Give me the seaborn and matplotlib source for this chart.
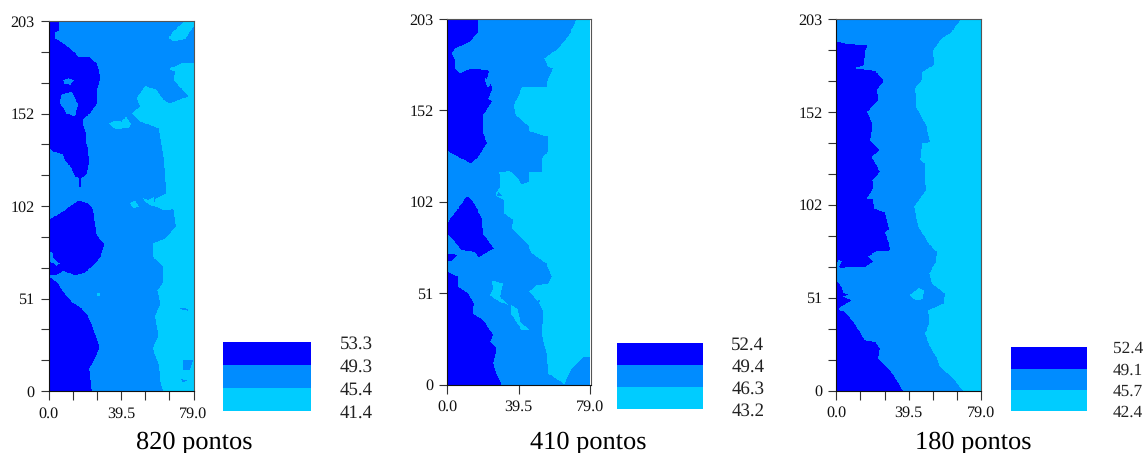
import numpy as np
import matplotlib
matplotlib.use('Agg')
import matplotlib.pyplot as plt
from matplotlib.colors import ListedColormap
from matplotlib.path import Path
import seaborn as sns

# Contour outlines, in map units (0-79 / 0-203)
# 820 pontos
a_dark1_x = [0,5.8,5.8,3.5,3.5,7.1,11.6,16.2,21.7,26.2,28.4,26.2,26.6,22.6,18.9,18.9,20.4,20.4,21.7,22.2,20.4,18,14.4,12.6,8.9,7.6,2.5,0]
a_dark1_y = [203,203,198.2,196.4,193.6,191.3,188.1,183.6,183.6,179.9,171.7,165.2,157.9,152.4,149.1,146,141.4,136.8,131.4,124.9,118.5,116.7,117.6,122.2,126.8,130.1,131.4,133.2]
a_dark2_x = [0,8,12.6,16.2,21.7,24.4,25.3,26.2,30.2,28.4,24.4,19.8,14.4,8,4.4,0]
a_dark2_y = [93.8,98.4,102,104.4,102.9,99.3,91.9,85.6,80.6,73.6,69,64.9,63.4,66,63.6,63.6]
a_dark3_x = [0,4.4,8,12.6,18,21.7,25.3,27.7,25.3,22.2,23.5,0]
a_dark3_y = [62.7,59.9,54.4,48.9,45.3,40.7,31.5,24.2,17.8,12.3,0,0]
a_dark4_x = [16.5,17.7,17.7,16.5]
a_dark4_y = [117,117,112,112]
a_light1_x = [79,72.6,65.3,69,68.1,71.7,76.3,66.2,62.6,59,52.6,48,49.9,45.3,49.9,53.5,59.9,61.2,62.6,63.5,63.9,58.1,57.5,62.6,68.1,69.3,63.5,57.1,56.8,62.6,62.2,59.3,60.8,58.1,59.9,56.8,59.9,61.2,62.6,79]
a_light1_y = [179.9,179.9,176.6,175.3,170.7,166.7,161.6,157.9,159.7,165.2,167.4,160.7,156.1,152.4,147.8,146.6,144.2,137.8,128.6,117.6,108.5,105.2,101.5,99.3,99.7,90.1,83.7,81,73.6,68.2,59,55.3,48,40.7,30.6,23.3,15,4,0,0]
a_light2_x = [65.3,68.1,73.5,79,79,74.4,68.1]
a_light2_y = [193.7,197.4,202.3,203,200,193,192]
a_light3_x = [51.7,54.4,57.1,58.6,55.3,52.6]
a_light3_y = [105.7,104.8,106.3,101.1,102,103.8]
a_light4_x = [44.4,47.1,49.5,46.2]
a_light4_y = [103,104.4,101.1,100.2]
a_light5_x = [33.1,36.2,39.9,42.2,44.8,44.4,40.8,37.1,34.4]
a_light5_y = [146.9,148.4,147.8,150.6,146.9,144.7,144.2,143.6,145.1]
a_light6_x = [26.2,28,28,26.2]
a_light6_y = [53.5,53.5,52,52]
a_mid1_x = [8,11,13.8,12,8.5]
a_mid1_y = [170.5,171.5,170.5,168,168.5]
a_mid2_x = [7.1,12.6,16.2,14.4,9.8,6.2]
a_mid2_y = [162.5,164.3,157,150.6,152.4,157.9]
a_mid3_x = [0,2.2,2.5,6.2,4.4,0.7,0]
a_mid3_y = [77.1,75.7,73,69.9,68.8,71.2,72.7]
a_mid4_x = [73.2,78.6,77.1,73.5]
a_mid4_y = [17.2,16.8,11.7,11.7]
a_mid5_x = [71.7,75.3,73.5]
a_mid5_y = [6.8,5.9,4.6]
a_mid6_x = [71.3,76.3,76.3,71.7]
a_mid6_y = [45.8,45.2,44,44.8]

# 410 pontos
b_dark1_x = [0,17.2,17.2,12.6,4.2,2.4,4.2,4.2,7,13.4,23.2,22.2,25.1,22.7,24.6,19.9,19.5,21.8,17.2,12.9,9.8,4.2,0]
b_dark1_y = [203,203,195.9,190.4,186.7,183.9,180.2,175.6,172.8,175.6,174.3,170,164.5,158.9,157,149.6,141.3,133.9,126.5,122.8,124.6,127.4,129.8]
b_dark2_x = [0,6.1,10.7,12.9,15.9,19,19.6,25.8,17.2,15.3,7.9,3.3,0]
b_dark2_y = [89.8,97.8,104.3,103.3,98.7,92.2,83.9,75.6,70.6,73.7,74.6,80.2,83.9]
b_dark3_x = [0,5.5,2.4,0]
b_dark3_y = [72.8,71.9,68.7,68.7]
b_dark4_x = [0,6.1,6.1,11.6,14.8,14,19.9,25.5,23.6,27.3,25.5,26.4,30.1,0]
b_dark4_y = [62.6,59.8,54.3,50.6,45,39.4,35.7,27.4,23.7,20,11.7,8,0,0]
b_light1_x = [71.6,67,61.5,53.7,55.9,58.7,55.9,55,41.2,39.3,36.6,38,44.9,45.8,55.9,55.9,52.2,52.2,44.9,45.4,41.2,38.4,34.7,28.8,29.2,26.4,31.4,31.4,36.6,35.6,44.9,46.7,55,57.8,55.9,49.5,45.4,50.4,53.2,52.2,55.4,55.9,64.2,64.8,68.9,75.3,79.6,79.6]
b_light1_y = [203,193.2,186.7,181.1,176.5,175.6,170,165,165,159.8,155.2,149.6,143.5,140.4,137.6,129.3,125.6,118.2,118.2,112.6,111.1,115.4,118.5,118.2,109.8,105.2,102.4,95,91.3,86.7,77.4,72.8,67.2,59.8,56.1,55.2,51.5,45.9,40.4,28.3,15.4,6.1,0.6,0,8.9,15,15,203]
b_light2_x = [24.6,27.3,31,30.1,29.2,33.8,29.2,23.3,25.5]
b_light2_y = [58,57,56.1,52.4,48.7,44,45.9,49.6,53.3]
b_light3_x = [35.6,38.8,40.6,45.4,41.2,37.5,35.3]
b_light3_y = [44,42.2,34.8,30.2,30.2,35.7,39.4]
b_mid1_x = [20.9,23.6,23.3,21.4]
b_mid1_y = [170,169,164.9,166.3]
b_mid2_x = [46.2,51.3,50.8,47.9]
b_mid2_y = [45.9,46.8,43.9,43.2]
b_mid3_x = [28.2,30.5,27.5]
b_mid3_y = [107,104.5,104.5]

# 180 pontos
c_dark1_x = [0,6.5,16.9,15.6,15.1,9.6,21.1,26,22,22.9,16.9,19.8,18.4,23.8,19.3,23.8,19.8,20.2,16.2,20.2,20.5,26.6,28.7,26.6,29.7,21.1,17.5,20.2,15.6,7.5,2.9,1.1,3.5,1.1,0]
c_dark1_y = [190.6,189.3,188.8,185.1,177.8,176,174.7,169.1,164.2,158.7,152.3,145,136.8,131.4,127.7,119.5,115,110.4,104.4,104.9,99.5,97.3,88,86.7,76.7,75.8,73.1,70.3,67.6,67.6,66.7,67.6,70.9,71.3,69]
c_dark2_x = [0,2.9,3.8,7,2.9,8.4,1.1,2,4.7,9.3,15.6,21.1,23.8,22.9,29.3,32.9,36.2,0]
c_dark2_y = [60.3,56.7,53.4,52.1,51.6,49.4,44.8,43.5,43,37.5,27.5,26.6,23,17.5,11.1,5.6,0,0]
c_light1_x = [68.4,62.1,57.5,53,53.3,47.1,46.6,43,43.5,49,51.1,47.1,45.7,48.4,48.4,49,42.4,44.8,51.1,54.8,54.4,50.8,52.1,59.3,58.8,50.2,50.8,48.4,51.1,55.1,56.6,63.9,69,79,79]
c_light1_y = [203,195.1,192.4,186,177.8,174.2,169.6,165.1,155,145,135.9,135,125.9,124.1,114.1,109.5,100.4,89.5,79.4,75.8,70.3,64,58.5,53,47.6,43.9,36.6,31.2,23.9,17.5,12.9,6.6,0,0,203]
c_light2_x = [39.9,44.8,47.9,47.1,42.9]
c_light2_y = [52.1,55.8,54.9,49.7,49.4]

titles = ['820 pontos', '410 pontos', '180 pontos']
legend_labels = [['53.3', '49.3', '45.4', '41.4'],
                 ['52.4', '49.4', '46.3', '43.2'],
                 ['52.4', '49.1', '45.7', '42.4']]
y_major = [0, 51, 102, 152, 203]
x_major = ['0.0', '39.5', '79.0']

DARK, MID, LIGHT = 2, 1, 0
RES = 4  # heatmap cells per map unit
zone_cmap = ListedColormap(['#00CCFF', '#008CFF', '#0000FF'])

zones_a = [(DARK, a_dark1_x, a_dark1_y), (DARK, a_dark2_x, a_dark2_y), (DARK, a_dark3_x, a_dark3_y),
           (DARK, a_dark4_x, a_dark4_y), (LIGHT, a_light1_x, a_light1_y), (LIGHT, a_light2_x, a_light2_y),
           (LIGHT, a_light3_x, a_light3_y), (LIGHT, a_light4_x, a_light4_y), (LIGHT, a_light5_x, a_light5_y),
           (LIGHT, a_light6_x, a_light6_y), (MID, a_mid1_x, a_mid1_y), (MID, a_mid2_x, a_mid2_y),
           (MID, a_mid3_x, a_mid3_y), (MID, a_mid4_x, a_mid4_y), (MID, a_mid5_x, a_mid5_y), (MID, a_mid6_x, a_mid6_y)]
zones_b = [(DARK, b_dark1_x, b_dark1_y), (DARK, b_dark2_x, b_dark2_y), (DARK, b_dark3_x, b_dark3_y),
           (DARK, b_dark4_x, b_dark4_y), (LIGHT, b_light1_x, b_light1_y), (LIGHT, b_light2_x, b_light2_y),
           (LIGHT, b_light3_x, b_light3_y), (MID, b_mid1_x, b_mid1_y), (MID, b_mid2_x, b_mid2_y), (MID, b_mid3_x, b_mid3_y)]
zones_c = [(DARK, c_dark1_x, c_dark1_y), (DARK, c_dark2_x, c_dark2_y),
           (LIGHT, c_light1_x, c_light1_y), (LIGHT, c_light2_x, c_light2_y)]

# left, right, top, bottom in pixels for each map and its legend
W, H = 1144, 453
map_boxes = [(48.5, 193.5, 21, 391), (447.3, 591, 19, 384.5), (836.3, 981, 19, 390.5)]
leg_boxes = [(223.3, 310.7, 342.3, 411), (617.3, 702.7, 342.7, 409), (1010.7, 1087, 347.3, 411)]
title_x = [194, 588, 973]
legend_size = [13.6, 13.6, 12.4]


def add_box(fig, box):
    left, right, top, bottom = box
    return fig.add_axes([left / W, 1 - bottom / H, (right - left) / W, (bottom - top) / H])


def zone_grid(zones):
    # later outlines paint over earlier ones
    grid = np.full((203 * RES, 79 * RES), MID)
    xx, yy = np.meshgrid((np.arange(79 * RES) + 0.5) / RES, (np.arange(203 * RES) + 0.5) / RES)
    pts = np.column_stack([xx.ravel(), yy.ravel()])
    for level, xs, ys in zones:
        inside = Path(np.column_stack([xs, ys])).contains_points(pts).reshape(grid.shape)
        grid[inside] = level
    return grid


sns.set_theme(style='white')
plt.rcParams['font.family'] = ['Liberation Serif', 'DejaVu Serif']
plt.rcParams['text.hinting'] = 'no_hinting'
fig = plt.figure(figsize=(W / 100, H / 100), dpi=100, facecolor='white')

for i, zones in enumerate([zones_a, zones_b, zones_c]):
    ax = add_box(fig, map_boxes[i])
    sns.heatmap(zone_grid(zones), ax=ax, cmap=zone_cmap, vmin=0, vmax=2, cbar=False,
                xticklabels=False, yticklabels=False)
    ax.set_xlim(0, (79.6 if i == 1 else 79) * RES)
    ax.set_ylim(0, 203 * RES)
    ax.set_facecolor('white')

    # the middle map has only the labelled ticks
    if i == 1:
        ax.set_xticks([0, 39.5 * RES, 79 * RES])
        ax.set_xticklabels(x_major)
        ax.set_yticks([v * RES for v in (0, 50.75, 101.5, 152.25, 203)])
        ax.set_yticklabels([str(v) for v in y_major])
    else:
        ax.set_xticks([79 * RES * k / 6 for k in range(7)])
        ax.set_xticklabels([x_major[k // 3] if k % 3 == 0 else '' for k in range(7)])
        ax.set_yticks([203 * RES * k / 12 for k in range(13)])
        ax.set_yticklabels([str(y_major[k // 3]) if k % 3 == 0 else '' for k in range(13)])
    ax.tick_params(axis='x', bottom=True, length=6.2, width=0.8, color='#333333', labelsize=11.6, pad=5, labelcolor='#111111')
    ax.tick_params(axis='y', left=True, length=6, width=0.8, color='#333333', labelsize=11.6, pad=4, labelcolor='#111111', labelrotation=0)
    for name, spine in ax.spines.items():
        spine.set_visible(True)
        spine.set_linewidth(0.8)
        spine.set_color('#111111' if name in ('left', 'bottom') else '#555555')

    lax = add_box(fig, leg_boxes[i])
    sns.heatmap([[DARK], [MID], [LIGHT]], ax=lax, cmap=zone_cmap, vmin=0, vmax=2, cbar=False,
                xticklabels=False, yticklabels=False)
    lax.yaxis.tick_right()
    lax.set_yticks([0, 1, 2, 3])
    lax.set_yticklabels(legend_labels[i])
    lax.tick_params(axis='y', right=False, length=0, labelsize=legend_size[i], pad=[21, 20.5, 18.5][i], labelcolor='#222222', labelrotation=0)

    fig.text(title_x[i] / W, 1 - 448 / H, titles[i], ha='center', va='baseline', fontsize=19, color='black')

fig.savefig('out.png', dpi=100)
